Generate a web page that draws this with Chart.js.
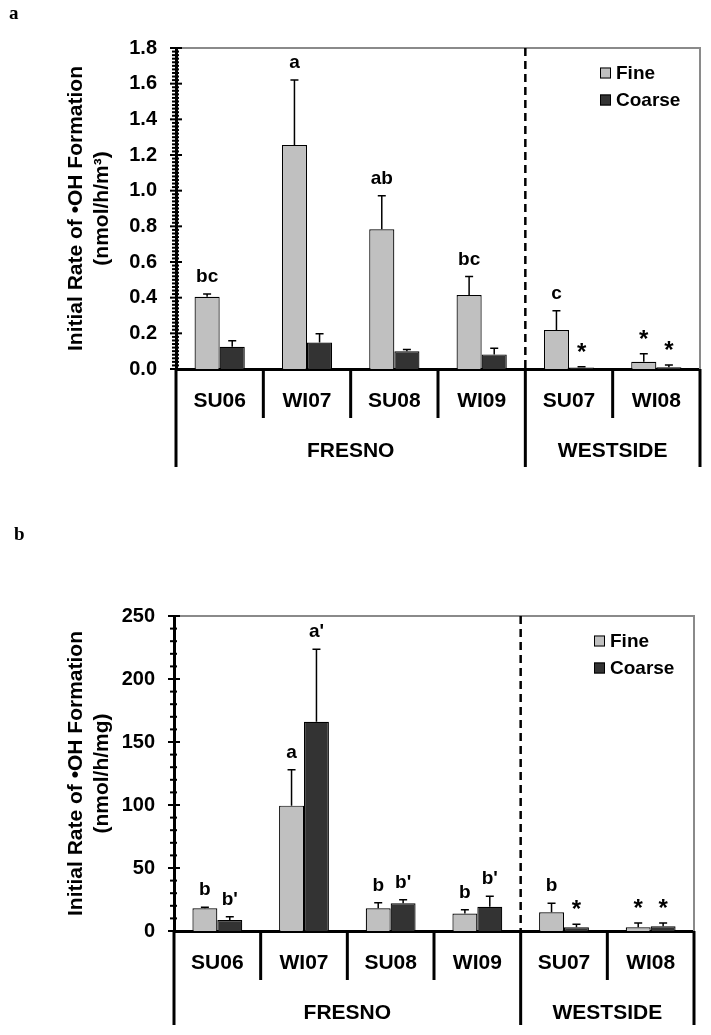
<!DOCTYPE html>
<html><head><meta charset="utf-8">
<script src="https://cdn.jsdelivr.net/npm/chart.js@4.4.1/dist/chart.umd.min.js"></script>
<style>
html,body{margin:0;padding:0;background:#fff;}
canvas{display:block;}
</style></head><body>
<canvas id="ca" width="711" height="480" style="width:711px;height:480px"></canvas>
<canvas id="cb" width="711" height="555" style="width:711px;height:555px"></canvas>
<script>
// ---- data ----
const categories = ['SU06', 'WI07', 'SU08', 'WI09', 'SU07', 'WI08'];
const groupLabels = ['FRESNO', 'WESTSIDE'];
const groupSizes = [4, 2];
const seriesNames = ['Fine', 'Coarse'];

// panel a (nmol/h/m3)
const fineA = [0.405, 1.256, 0.783, 0.415, 0.219, 0.041];
const fineErrA = [0.015, 0.364, 0.189, 0.103, 0.108, 0.045];
const coarseA = [0.125, 0.148, 0.099, 0.082, 0.008, 0.010];
const coarseErrA = [0.034, 0.050, 0.011, 0.034, 0.004, 0.012];
const fineLettersA = ['bc', 'a', 'ab', 'bc', 'c', '*'];
const coarseLettersA = ['', '', '', '', '*', '*'];

// panel b (nmol/h/mg)
const fineB = [18, 99.5, 18, 13.8, 14.8, 2.9];
const fineErrB = [0.8, 28.5, 4.5, 3.1, 7.2, 3.4];
const coarseB = [8.7, 166, 22, 19.3, 2.9, 3.7];
const coarseErrB = [2.7, 57.6, 2.9, 8.2, 2.4, 2.6];
const fineLettersB = ['b', 'a', 'b', 'b', 'b', '*'];
const coarseLettersB = ["b'", "a'", "b'", "b'", '*', '*'];

const titleLine1 = 'Initial Rate of \u2022OH Formation';
const titleLine2A = '(nmol/h/m\u00B3)';
const titleLine2B = '(nmol/h/mg)';

const FONT = "'Liberation Sans', Arial, Helvetica, sans-serif";
const SERIF = "'Liberation Serif', 'Times New Roman', serif";
const fineColor = '#c0c0c0';
const coarseColor = '#333333';

const decor = {
  id: 'decor',
  afterDatasetsDraw(chart) {
    const ctx = chart.ctx, y = chart.scales.y;
    ctx.save();
    chart.data.datasets.forEach((ds, di) => {
      const meta = chart.getDatasetMeta(di);
      meta.data.forEach((bar, i) => {
        const v = ds.data[i], e = ds.errors[i];
        const top = y.getPixelForValue(v + e);
        const by = y.getPixelForValue(v);
        ctx.strokeStyle = '#000'; ctx.lineWidth = 1.5;
        ctx.beginPath();
        ctx.moveTo(bar.x, by); ctx.lineTo(bar.x, top);
        ctx.moveTo(bar.x - 4, top); ctx.lineTo(bar.x + 4, top);
        ctx.stroke();
        const t = ds.letters[i];
        if (t) {
          const star = t === '*';
          ctx.font = 'bold ' + (star ? 24 : 19) + 'px ' + FONT;
          ctx.textAlign = 'center'; ctx.textBaseline = 'alphabetic';
          ctx.fillStyle = '#000';
          ctx.fillText(t, bar.x, top - (star ? 7 : 12));
        }
      });
    });
    ctx.restore();
  },
  afterDraw(chart, args, o) {
    const ctx = chart.ctx, ca = chart.chartArea, x = chart.scales.x, y = chart.scales.y;
    const n = categories.length;
    const cw = (ca.right - ca.left) / n;
    ctx.save();
    // grey top & right frame
    ctx.strokeStyle = '#8a8a8a'; ctx.lineWidth = 2;
    ctx.beginPath();
    ctx.moveTo(ca.left, ca.top); ctx.lineTo(ca.right, ca.top); ctx.lineTo(ca.right, ca.bottom);
    ctx.stroke();
    // dashed divider between groups
    const divX = (x.getPixelForValue(groupSizes[0] - 1) + x.getPixelForValue(groupSizes[0])) / 2;
    ctx.strokeStyle = '#000'; ctx.lineWidth = 2.5; ctx.setLineDash([8, 5]);
    ctx.beginPath(); ctx.moveTo(divX, ca.top); ctx.lineTo(divX, ca.bottom); ctx.stroke();
    ctx.setLineDash([]);
    // y ticks major & minor
    ctx.lineWidth = 2;
    const lx = ca.left;
    for (let k = 0; ; k++) {
      const v = y.min + k * o.minorStep;
      if (v > y.max + 1e-9) break;
      const py = y.getPixelForValue(v);
      const isMajor = Math.abs(v / o.majorStep - Math.round(v / o.majorStep)) < 1e-6;
      ctx.beginPath();
      if (isMajor) { ctx.moveTo(lx - 6, py); ctx.lineTo(lx + 6, py); }
      else { ctx.moveTo(lx - 4, py); ctx.lineTo(lx + 3, py); }
      ctx.stroke();
    }
    // category separators & group labels
    ctx.lineWidth = 3;
    const edges = [0];
    groupSizes.reduce((a, s) => { edges.push(a + s); return a + s; }, 0);
    for (let i = 0; i <= n; i++) {
      const px = ca.left + i * cw;
      const long = edges.includes(i);
      ctx.beginPath();
      ctx.moveTo(px, ca.bottom);
      ctx.lineTo(px, ca.bottom + (long ? o.longSep : o.shortSep));
      ctx.stroke();
    }
    ctx.fillStyle = '#000';
    ctx.font = 'bold 21px ' + FONT;
    ctx.textAlign = 'center'; ctx.textBaseline = 'middle';
    for (let g = 0; g < groupLabels.length; g++) {
      const cx = ca.left + (edges[g] + edges[g + 1]) / 2 * cw;
      ctx.fillText(groupLabels[g], cx, ca.bottom + o.groupOffset);
    }
    // legend
    ctx.font = 'bold 19px ' + FONT;
    ctx.textAlign = 'left'; ctx.textBaseline = 'middle';
    chart.data.datasets.forEach((ds, di) => {
      const bx = ca.right - 100, by = ca.top + 25 + di * 27;
      ctx.fillStyle = ds.backgroundColor;
      ctx.fillRect(bx, by - 5.5, 11, 11);
      ctx.lineWidth = 1; ctx.strokeStyle = '#000';
      ctx.strokeRect(bx + 0.5, by - 5, 10, 10);
      ctx.fillStyle = '#000';
      ctx.fillText(ds.label, bx + 16, by + 1);
    });
    // y axis title
    const cy = (ca.top + ca.bottom) / 2;
    ctx.font = 'bold 21px ' + FONT;
    ctx.textAlign = 'center'; ctx.textBaseline = 'alphabetic';
    [[o.title1, 82], [o.title2, 107.5]].forEach(([t, bx]) => {
      ctx.save(); ctx.translate(bx, cy); ctx.rotate(-Math.PI / 2);
      ctx.fillText(t, 0, 0); ctx.restore();
    });
    // panel letter
    ctx.font = 'bold 19px ' + SERIF;
    ctx.textAlign = 'left'; ctx.textBaseline = 'alphabetic';
    ctx.fillText(o.panel, o.panelX, o.panelY);
    ctx.restore();
  }
};

function makeChart(id, fine, fineErr, coarse, coarseErr, fineL, coarseL, cfg) {
  return new Chart(document.getElementById(id), {
    type: 'bar',
    data: {
      labels: categories,
      datasets: [
        { label: seriesNames[0], data: fine, errors: fineErr, letters: fineL,
          backgroundColor: fineColor, borderColor: '#000', borderWidth: 1.2,
          categoryPercentage: 0.575, barPercentage: 1 },
        { label: seriesNames[1], data: coarse, errors: coarseErr, letters: coarseL,
          backgroundColor: coarseColor, borderColor: '#000', borderWidth: 1.2,
          categoryPercentage: 0.575, barPercentage: 1 }
      ]
    },
    options: {
      responsive: false, animation: false, devicePixelRatio: 1,
      layout: { padding: cfg.padding },
      plugins: {
        legend: { display: false }, tooltip: { enabled: false },
        decor: cfg.decor
      },
      scales: {
        x: {
          offset: true,
          grid: { display: false, drawTicks: false },
          border: { display: true, color: '#000', width: 3 },
          ticks: { font: { size: 21, weight: 'bold', family: FONT }, color: '#000', padding: 20, maxRotation: 0 },
          afterFit(s) { s.height = cfg.xHeight; }
        },
        y: {
          min: cfg.min, max: cfg.max,
          grid: { display: false, drawTicks: false },
          border: { display: true, color: '#000', width: 3 },
          ticks: { stepSize: cfg.step, callback: cfg.fmt, font: { size: 20, weight: 'bold', family: FONT }, color: '#000', padding: 19 },
          afterFit(s) { s.width = cfg.yWidth; }
        }
      }
    },
    plugins: [decor]
  });
}

makeChart('ca', fineA, fineErrA, coarseA, coarseErrA, fineLettersA, coarseLettersA, {
  padding: { top: 48, right: 11, left: 0, bottom: 0 },
  xHeight: 111, yWidth: 176, min: 0, max: 1.8, step: 0.2,
  fmt: v => v.toFixed(1),
  decor: { minorStep: 0.02, majorStep: 0.2, shortSep: 49, longSep: 98, groupOffset: 82,
    title1: titleLine1, title2: titleLine2A, panel: 'a', panelX: 9, panelY: 19 }
});

makeChart('cb', fineB, fineErrB, coarseB, coarseErrB, fineLettersB, coarseLettersB, {
  padding: { top: 136, right: 17, left: 0, bottom: 0 },
  xHeight: 104, yWidth: 174, min: 0, max: 250, step: 50,
  fmt: v => String(v),
  decor: { minorStep: 10, majorStep: 50, shortSep: 49, longSep: 94, groupOffset: 82,
    title1: titleLine1, title2: titleLine2B, panel: 'b', panelX: 14, panelY: 60 }
});
</script>
</body></html>
